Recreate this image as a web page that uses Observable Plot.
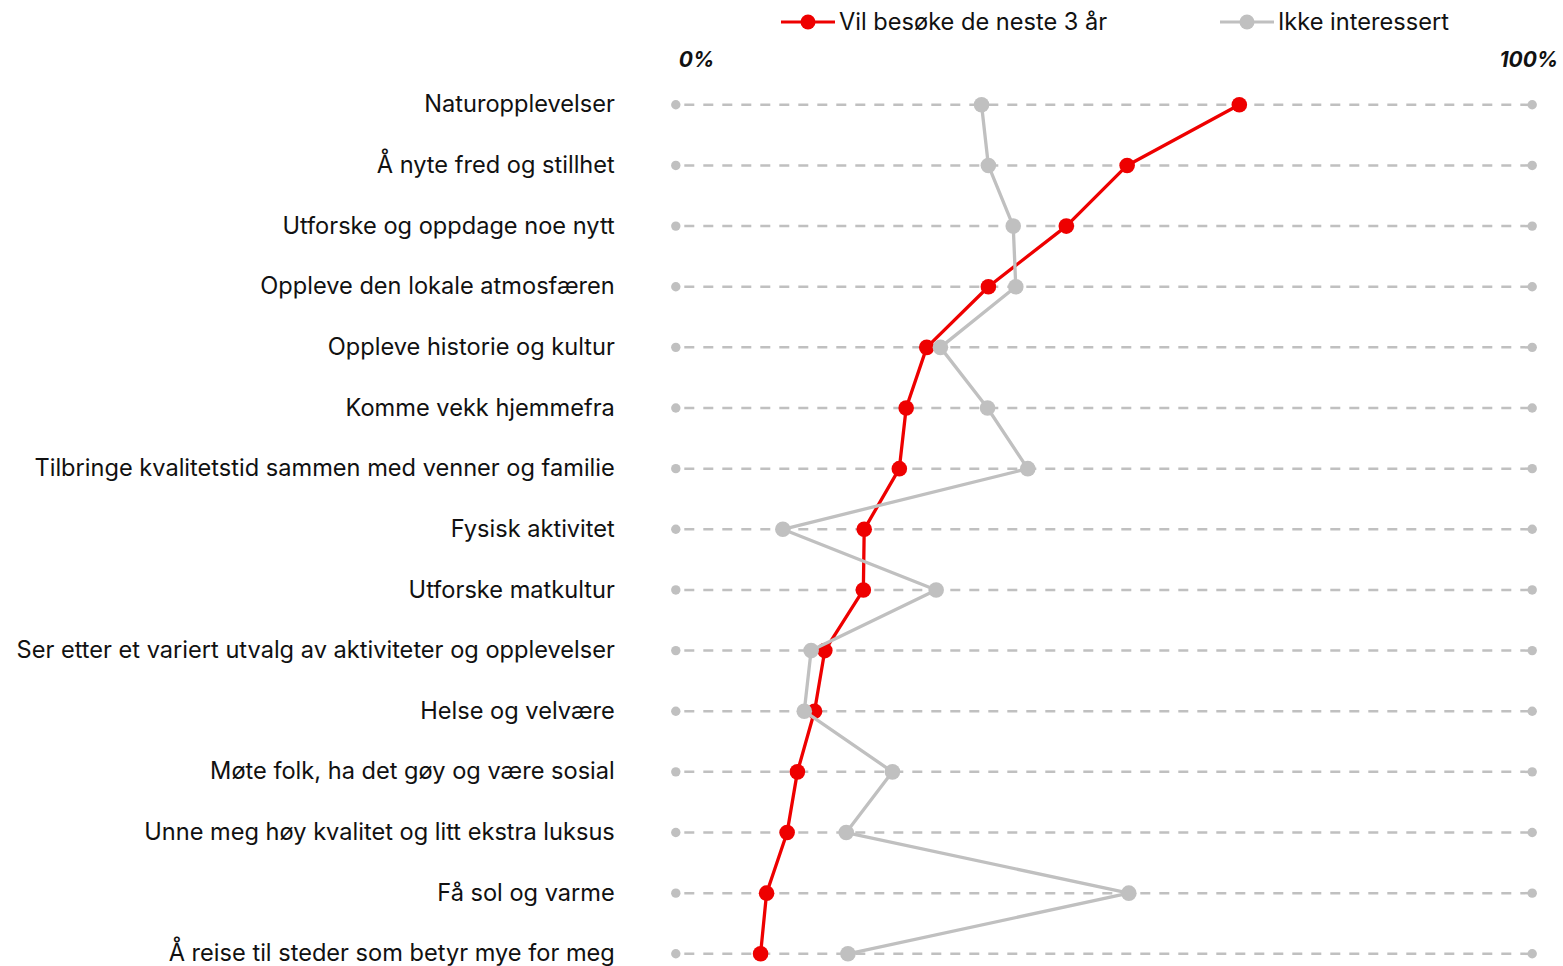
<!DOCTYPE html>
<html>
<head>
<meta charset="utf-8">
<script src="https://cdn.jsdelivr.net/npm/d3@7"></script>
<script src="https://cdn.jsdelivr.net/npm/@observablehq/plot@0.6"></script>
<style>
  body { margin: 0; background: #fff; font-family: Inter, Roboto, "Noto Sans", sans-serif; }
  #legend { position: relative; height: 45px; width: 1563px; }
  .item { position: absolute; top: 10px; display: flex; align-items: center; font-size: 23.6px; color: #111; line-height: 24px; }
  .item svg { margin-right: 4px; }
  #chart svg { display: block; }
</style>
</head>
<body>
<div id="legend"></div>
<div id="chart"></div>
<script>
const categories = [
  "Naturopplevelser",
  "Å nyte fred og stillhet",
  "Utforske og oppdage noe nytt",
  "Oppleve den lokale atmosfæren",
  "Oppleve historie og kultur",
  "Komme vekk hjemmefra",
  "Tilbringe kvalitetstid sammen med venner og familie",
  "Fysisk aktivitet",
  "Utforske matkultur",
  "Ser etter et variert utvalg av aktiviteter og opplevelser",
  "Helse og velvære",
  "Møte folk, ha det gøy og være sosial",
  "Unne meg høy kvalitet og litt ekstra luksus",
  "Få sol og varme",
  "Å reise til steder som betyr mye for meg"
];
const visitValues = [65.8, 52.7, 45.6, 36.5, 29.3, 26.9, 26.1, 22.0, 21.9, 17.4, 16.2, 14.2, 13.0, 10.6, 9.9];
const notInterestedValues = [35.7, 36.5, 39.4, 39.7, 30.9, 36.4, 41.1, 12.5, 30.4, 15.8, 15.0, 25.3, 19.9, 52.9, 20.1];
const seriesNames = ["Vil besøke de neste 3 år", "Ikke interessert"];
const seriesColors = ["#ee0000", "#c0c0c0"];
const axisLabels = ["0%", "100%"];

const visit = categories.map((c, i) => ({category: c, value: visitValues[i]}));
const notInt = categories.map((c, i) => ({category: c, value: notInterestedValues[i]}));

// legend
const legend = document.getElementById("legend");
const legendX = [781, 1220];
seriesNames.forEach((name, i) => {
  const div = document.createElement("div");
  div.className = "item";
  div.style.left = legendX[i] + "px";
  div.innerHTML = `<svg width="54" height="20"><line x1="0" x2="54" y1="10" y2="10" stroke="${seriesColors[i]}" stroke-width="3.2"/><circle cx="27" cy="10" r="7.5" fill="${seriesColors[i]}"/></svg><span>${name}</span>`;
  legend.appendChild(div);
});

const H = 921;
const plot = Plot.plot({
  width: 1563,
  height: H,
  marginTop: 59.3,
  marginBottom: 12.7,
  marginLeft: 675.3,
  marginRight: 31.3,
  style: {fontFamily: "Inter, Roboto, 'Noto Sans', sans-serif", fontSize: "23.6px", color: "#111", background: "#fff"},
  x: {domain: [0, 100], axis: null},
  y: {domain: categories, type: "point", padding: 0, round: false, axis: null},
  marks: [
    Plot.ruleY(categories, {y: d => d, x1: 0, x2: 100, stroke: "#c0c0c0", strokeWidth: 2.5, strokeDasharray: "10,9", strokeDashoffset: -9}),
    Plot.dot(categories, {y: d => d, x: 0, r: 4.7, fill: "#c0c0c0"}),
    Plot.dot(categories, {y: d => d, x: 100, r: 4.7, fill: "#c0c0c0"}),
    Plot.axisY({tickSize: 0, tickPadding: 61, fontSize: 23.6, textAnchor: "end", label: null, fill: "#111"}),
    Plot.line(visit, {x: "value", y: "category", stroke: seriesColors[0], strokeWidth: 3.3}),
    Plot.dot(visit, {x: "value", y: "category", r: 7.8, fill: seriesColors[0]}),
    Plot.line(notInt, {x: "value", y: "category", stroke: seriesColors[1], strokeWidth: 3.3}),
    Plot.dot(notInt, {x: "value", y: "category", r: 7.8, fill: seriesColors[1]}),
    Plot.text([axisLabels[0]], {x: 0, frameAnchor: "top", dy: -52.3, dx: 3, text: d => d, textAnchor: "start", fontSize: 21, fontWeight: "bold", fontStyle: "italic", fill: "#111"}),
    Plot.text([axisLabels[1]], {x: 100, frameAnchor: "top", dy: -52.3, dx: 26, text: d => d, textAnchor: "end", fontSize: 21, fontWeight: "bold", fontStyle: "italic", fill: "#111"})
  ]
});
document.getElementById("chart").appendChild(plot);
</script>
</body>
</html>
